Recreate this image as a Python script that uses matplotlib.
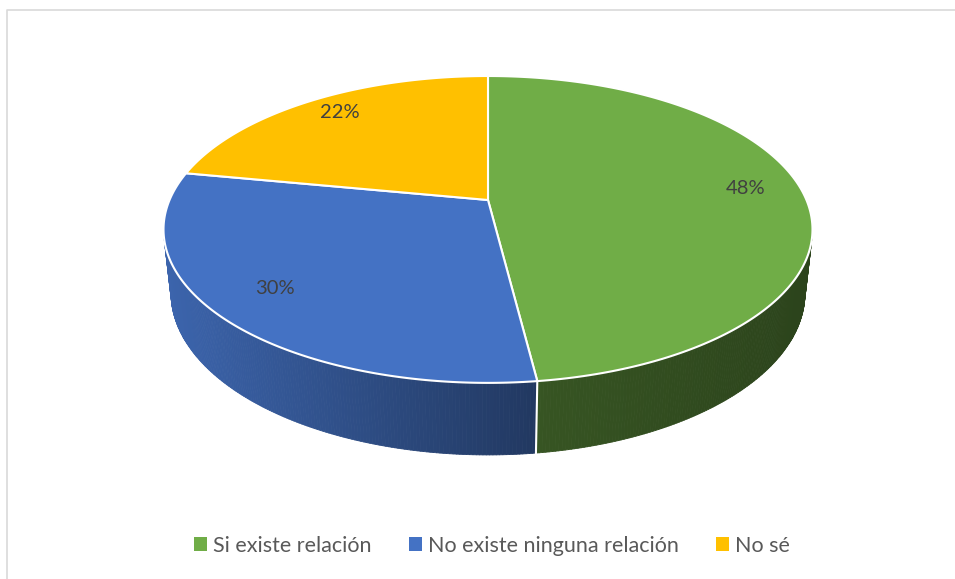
import numpy as np
import matplotlib
matplotlib.use('agg')
import matplotlib.pyplot as plt
from matplotlib.patches import Polygon, Patch
from matplotlib.collections import PolyCollection
import matplotlib.colors as mcolors

labels = ["Si existe relación", "No existe ninguna relación", "No sé"]
values = [48, 30, 22]
colors = ["#70AD47", "#4472C4", "#FFC000"]

# simple perspective view of a flat cylinder (excel style 3d pie)
elev = np.radians(27.65)
dist = 4.616
thick = 0.227
scale = 1470
cx, cy = 488, 200


def proj(x, y, z):
    c, s = np.cos(elev), np.sin(elev)
    dep = y * c + dist - z * s
    return cx + scale * x / dep, cy - scale * (y * s + z * c) / dep


def rim(th, r=1.0, z=0.0):
    t = np.radians(th)
    return proj(r * np.sin(t), r * np.cos(t), z)


def shade(col, px):
    f = np.interp(px, [163, 541, 812], [0.88, 0.49, 0.39])
    rgb = np.array(mcolors.to_rgb(col)) * f
    return np.clip(rgb, 0, 1)


fig = plt.figure(figsize=(9.55, 5.79), dpi=100)
ax = fig.add_axes([0, 0, 1, 1])
ax.set_xlim(0, 955)
ax.set_ylim(579, 0)
ax.axis('off')

total = sum(values)
bounds = np.concatenate([[0], np.cumsum(values) / total * 360])

# visible part of the side wall
tv = np.degrees(np.arccos(-1 / (dist * np.cos(elev))))
tv0, tv1 = tv, 360 - tv

for i, col in enumerate(colors):
    a0, a1 = bounds[i], bounds[i + 1]
    w0, w1 = max(a0, tv0), min(a1, tv1)
    if w1 > w0:
        ths = np.linspace(w0, w1, int((w1 - w0) * 2) + 2)
        quads, fcs = [], []
        for t0, t1 in zip(ths[:-1], ths[1:]):
            p = [rim(t0), rim(t1), rim(t1, z=-thick), rim(t0, z=-thick)]
            quads.append(p)
            fcs.append(shade(col, (p[0][0] + p[1][0]) / 2))
        pc = PolyCollection(quads, facecolors=fcs, edgecolors=fcs, linewidths=0.6, zorder=2)
        ax.add_collection(pc)

# white seam on the wall
for b in bounds[1:-1]:
    if tv0 < b < tv1:
        xa, ya = rim(b)
        xb, yb = rim(b, z=-thick)
        ax.plot([xa, xb], [ya, yb], color="white", lw=1.5, zorder=2.5)

# top faces
for i, col in enumerate(colors):
    a0, a1 = bounds[i], bounds[i + 1]
    ths = np.linspace(a0, a1, 200)
    pts = [proj(0, 0, 0)] + [rim(t) for t in ths]
    ax.add_patch(Polygon(pts, closed=True, facecolor=col, edgecolor="white",
                         lw=1.5, joinstyle="round", zorder=3))

# data labels
for i, v in enumerate(values):
    mid = (bounds[i] + bounds[i + 1]) / 2
    lx, ly = rim(mid, r=0.82)
    ax.text(lx, ly - 4, f"{v}%", ha="center", va="center", fontsize=14.5,
            color="#404040", family="Lato", zorder=4)

# chart border (left and top only are in frame)
ax.plot([6.5, 6.5, 955], [579, 9.5, 9.5], color="#d9d9d9", lw=1.2, zorder=1)

handles = [Patch(facecolor=c, edgecolor="none") for c in colors]
ax.legend(handles, labels, loc="center", bbox_to_anchor=(0.515, 0.057), ncol=3,
          frameon=False, prop={"family": "Lato", "size": 15.5}, labelcolor="#595959",
          handlelength=0.62, handleheight=0.62, handletextpad=0.25, columnspacing=1.75)

fig.savefig("out.png", dpi=100)
